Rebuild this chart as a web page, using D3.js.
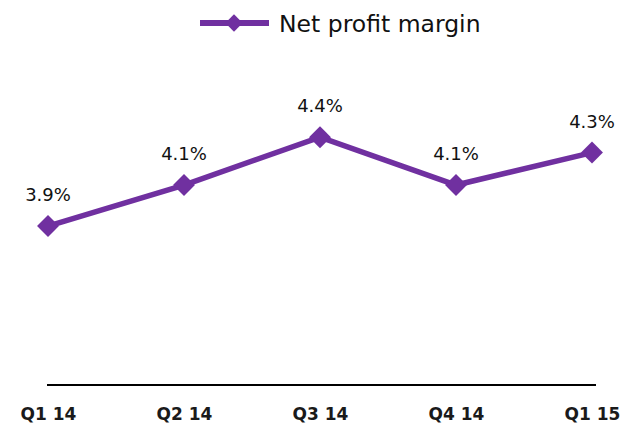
<!DOCTYPE html>
<html>
<head>
<meta charset="utf-8">
<script src="https://cdn.jsdelivr.net/npm/d3@7"></script>
<style>
    body { margin: 0; background: #fff; }
    svg { display: block; font-family: "DejaVu Sans", sans-serif; }
</style>
</head>
<body>
<svg id="chart" width="623" height="428"></svg>
<script>
// ========== Data ==========

const quarters = ["Q1 14", "Q2 14", "Q3 14", "Q4 14", "Q1 15"];
const margins = [3.88, 4.12, 4.40, 4.12, 4.31];
const marginLabels = ["3.9%", "4.1%", "4.4%", "4.1%", "4.3%"];
const seriesName = "Net profit margin";

const purple = "#7030a0";

// ========== Chart ==========

const svg = d3.select("#chart");

const x = d3.scalePoint()
    .domain(quarters)
    .range([48, 592]);

const y = d3.scaleLinear()
    .domain([2.95, 4.6])
    .range([385, 103]);

// baseline axis
svg.append("line")
    .attr("x1", 47)
    .attr("x2", 596)
    .attr("y1", 385)
    .attr("y2", 385)
    .attr("stroke", "#000")
    .attr("stroke-width", 2);

const xAxis = svg.append("g")
    .attr("transform", "translate(0,385)")
    .call(d3.axisBottom(x).tickSize(0).tickPadding(23));
xAxis.select(".domain").remove();
xAxis.selectAll("text")
    .attr("font-family", "DejaVu Sans, sans-serif")
    .attr("font-size", 17)
    .attr("font-weight", "bold")
    .attr("fill", "#1a1a1a");

const points = quarters.map((q, i) => ({ q, v: margins[i], label: marginLabels[i] }));

const line = d3.line()
    .x(d => x(d.q))
    .y(d => y(d.v));

svg.append("path")
    .datum(points)
    .attr("fill", "none")
    .attr("stroke", purple)
    .attr("stroke-width", 5.5)
    .attr("d", line);

const diamond = d3.symbol().type(d3.symbolSquare).size(240);

svg.selectAll(".dot")
    .data(points)
    .join("path")
    .attr("class", "dot")
    .attr("d", diamond)
    .attr("transform", d => `translate(${x(d.q)},${y(d.v)}) rotate(45)`)
    .attr("fill", purple);

svg.selectAll(".lbl")
    .data(points)
    .join("text")
    .attr("class", "lbl")
    .attr("x", d => x(d.q))
    .attr("y", d => y(d.v) - 25)
    .attr("text-anchor", "middle")
    .attr("font-size", 18)
    .attr("fill", "#111")
    .text(d => d.label);

// ========== Legend ==========

const legend = svg.append("g");
legend.append("line")
    .attr("x1", 200).attr("x2", 269)
    .attr("y1", 23).attr("y2", 23)
    .attr("stroke", purple)
    .attr("stroke-width", 6);
legend.append("path")
    .attr("d", d3.symbol().type(d3.symbolSquare).size(150))
    .attr("transform", "translate(234,23) rotate(45)")
    .attr("fill", purple);
legend.append("text")
    .attr("x", 279)
    .attr("y", 32)
    .attr("font-size", 23.5)
    .attr("fill", "#111")
    .text(seriesName);
</script>
</body>
</html>
